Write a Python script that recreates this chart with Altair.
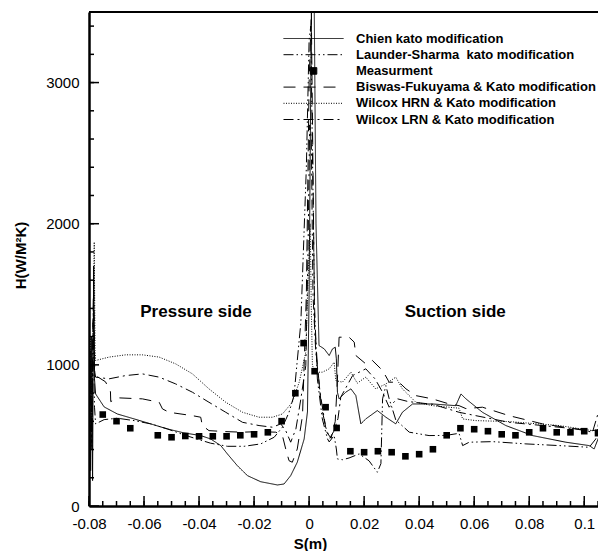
import altair as alt
import pandas as pd

FONT = "Liberation Sans"

NAMES = [
    "Chien kato modification",
    "Launder-Sharma\u00a0 kato modification",
    "Measurment",
    "Biswas-Fukuyama & Kato modification",
    "Wilcox HRN & Kato modification",
    "Wilcox LRN & Kato modification",
]
DASHES = [[1, 0], [10, 3, 1.5, 3, 1.5, 3], [1, 0], [12, 8], [1, 1.5], [10, 4, 2, 4]]
SQUARE = "M-0.11,-0.11L0.11,-0.11L0.11,0.11L-0.11,0.11Z"
SHAPES = ["stroke", "stroke", SQUARE, "stroke", "stroke", "stroke"]

CHIEN_X = [-0.0800, -0.0797, -0.0794, -0.0790, -0.0787, -0.0783, -0.0780, -0.0776, -0.0745, -0.0697,
           -0.0636, -0.0576, -0.0515, -0.0455, -0.0394, -0.0358, -0.0321, -0.0297, -0.0261, -0.0224,
           -0.0176, -0.0115, -0.0091, -0.0067, -0.0043, -0.0018, -0.0006, 0.0000, 0.0006, 0.0010,
           0.0018, 0.0025, 0.0036, 0.0055, 0.0073, 0.0085, 0.0095, 0.0099, 0.0103, 0.0109,
           0.0133, 0.0152, 0.0170, 0.0188, 0.0206, 0.0248, 0.0279, 0.0315, 0.0339, 0.0376,
           0.0448, 0.0533, 0.0552, 0.0570, 0.0630, 0.0715, 0.0812, 0.0933, 0.1018, 0.1036,
           0.1055, 0.1073]
CHIEN_Y = [550, 1000, 250, 1200, 180, 1700, 900, 794, 702, 652,
           617, 582, 546, 518, 499, 475, 428, 369, 286, 215,
           172, 149, 156, 215, 310, 475, 667, 1500, 3000, 3700,
           3700, 2000, 1137, 1113, 1066, 1113, 1125, 1043, 806, 759,
           806, 830, 782, 582, 617, 676, 629, 582, 664, 723,
           723, 711, 794, 759, 664, 570, 499, 452, 428, 404,
           499, 534]

LAUNDER_X = [-0.0800, -0.0795, -0.0790, -0.0785, -0.0780, -0.0776, -0.0745, -0.0697, -0.0636, -0.0576,
             -0.0515, -0.0455, -0.0400, -0.0358, -0.0297, -0.0236, -0.0176, -0.0127, -0.0097, -0.0073,
             -0.0055, -0.0030, -0.0010, 0.0000, 0.0006, 0.0012, 0.0020, 0.0030, 0.0048, 0.0067,
             0.0073, 0.0091, 0.0099, 0.0103, 0.0121, 0.0145, 0.0182, 0.0218, 0.0248, 0.0261,
             0.0267, 0.0279, 0.0291, 0.0315, 0.0364, 0.0436, 0.0497, 0.0545, 0.0558, 0.0582,
             0.0667, 0.0788, 0.0909, 0.1018, 0.1042, 0.1055, 0.1067]
LAUNDER_Y = [550, 900, 400, 1300, 700, 582, 612, 622, 605, 582,
             546, 504, 470, 445, 423, 423, 440, 487, 558, 664,
             782, 1300, 2400, 3300, 3400, 2500, 1400, 900, 617, 475,
             454, 499, 404, 333, 328, 340, 369, 320, 239, 300,
             759, 853, 760, 610, 523, 499, 500, 515, 428, 452,
             456, 440, 428, 416, 475, 617, 711]

MEAS_X = [-0.080, -0.075, -0.070, -0.065, -0.055, -0.050, -0.045, -0.040, -0.035, -0.030,
          -0.025, -0.020, -0.015, -0.010, -0.005, -0.002, 0.002, 0.006, 0.010, 0.015,
          0.020, 0.025, 0.030, 0.035, 0.040, 0.045, 0.050, 0.055, 0.060, 0.065,
          0.070, 0.075, 0.080, 0.085, 0.090, 0.095, 0.100, 0.105]
MEAS_Y = [553, 648, 601, 551, 501, 487, 496, 494, 494, 494,
          501, 508, 522, 601, 799, 1154, 955, 700, 553, 388,
          381, 388, 381, 352, 367, 402, 501, 551, 544, 530,
          508, 501, 522, 551, 522, 522, 530, 516]

BISWAS_X = [-0.0800, -0.0795, -0.0790, -0.0784, -0.0780, -0.0776, -0.0740, -0.0722, -0.0721, -0.0691,
            -0.0606, -0.0545, -0.0533, -0.0509, -0.0424, -0.0394, -0.0388, -0.0364, -0.0303, -0.0242,
            -0.0182, -0.0121, -0.0097, -0.0085, -0.0073, -0.0061, -0.0043, -0.0024, -0.0010, 0.0000,
            0.0008, 0.0014, 0.0020, 0.0030, 0.0045, 0.0065, 0.0080, 0.0095, 0.0103, 0.0109,
            0.0145, 0.0164, 0.0170, 0.0206, 0.0230, 0.0267, 0.0291, 0.0327, 0.0352, 0.0388,
            0.0448, 0.0509, 0.0545, 0.0570, 0.0630, 0.0727, 0.0848, 0.0970, 0.1030, 0.1067]
BISWAS_Y = [600, 1100, 500, 1500, 950, 924, 880, 810, 740, 766,
            759, 735, 688, 664, 640, 629, 570, 534, 527, 523,
            527, 523, 499, 404, 321, 310, 404, 640, 1500, 3000,
            3500, 2400, 1300, 1000, 700, 520, 480, 600, 900, 1196,
            1196, 1161, 1066, 1007, 1031, 960, 877, 877, 830, 782,
            759, 723, 711, 690, 700, 640, 582, 546, 534, 546]

HRN_X = [-0.0800, -0.0794, -0.0789, -0.0781, -0.0778, -0.0776, -0.0727, -0.0667, -0.0606, -0.0545,
         -0.0485, -0.0424, -0.0364, -0.0303, -0.0242, -0.0182, -0.0133, -0.0097, -0.0061, -0.0036,
         -0.0012, -0.0004, 0.0004, 0.0008, 0.0012, 0.0024, 0.0048, 0.0073, 0.0091, 0.0097,
         0.0121, 0.0152, 0.0175, 0.0206, 0.0242, 0.0279, 0.0315, 0.0339, 0.0388, 0.0448,
         0.0545, 0.0558, 0.0606, 0.0727, 0.0909, 0.1030, 0.1067]
HRN_Y = [700, 1200, 600, 1870, 1100, 1031, 1055, 1071, 1071, 1055,
         1007, 936, 830, 735, 664, 629, 629, 652, 735, 877,
         1090, 1600, 2000, 1400, 995, 948, 948, 972, 1019, 889,
         877, 948, 870, 913, 830, 865, 913, 830, 735, 711,
         693, 617, 605, 598, 570, 534, 546]

LRN_X = [-0.0800, -0.0795, -0.0790, -0.0783, -0.0779, -0.0776, -0.0727, -0.0667, -0.0606, -0.0545,
         -0.0485, -0.0424, -0.0364, -0.0303, -0.0242, -0.0182, -0.0133, -0.0103, -0.0085, -0.0067,
         -0.0048, -0.0030, -0.0012, -0.0004, 0.0002, 0.0008, 0.0014, 0.0024, 0.0040, 0.0060,
         0.0075, 0.0090, 0.0105, 0.0115, 0.0158, 0.0206, 0.0240, 0.0267, 0.0291, 0.0320,
         0.0360, 0.0450, 0.0545, 0.0606, 0.0727, 0.0848, 0.0970, 0.1030, 0.1055, 0.1073]
LRN_Y = [650, 1000, 450, 1600, 950, 913, 901, 924, 936, 913,
         865, 806, 735, 664, 593, 570, 558, 582, 534, 452,
         546, 759, 995, 1800, 2700, 2600, 1500, 1100, 800, 560,
         480, 530, 620, 771, 924, 972, 900, 806, 700, 760,
         740, 720, 664, 640, 593, 570, 546, 523, 688, 735]

ANNOT_TEXT = ["Pressure side", "Suction side"]
ANNOT_S = [-0.0411, 0.0531]
ANNOT_H = [1376, 1376]

X_MAJOR = [-0.08, -0.06, -0.04, -0.02, 0.0, 0.02, 0.04, 0.06, 0.08, 0.1]
X_MINOR = [round(-0.08 + 0.005 * i, 3) for i in range(38)]
Y_MAJOR = [0, 1000, 2000, 3000]
Y_MINOR = [200 * i for i in range(1, 18)]

rows = []
for name, xs, ys in [(NAMES[0], CHIEN_X, CHIEN_Y), (NAMES[1], LAUNDER_X, LAUNDER_Y),
                     (NAMES[3], BISWAS_X, BISWAS_Y), (NAMES[4], HRN_X, HRN_Y),
                     (NAMES[5], LRN_X, LRN_Y)]:
    for i, (a, b) in enumerate(zip(xs, ys)):
        rows.append({"model": name, "s": a, "h": b, "i": i})
lines_df = pd.DataFrame(rows)
meas_df = pd.DataFrame({"model": [NAMES[2]] * len(MEAS_X), "s": MEAS_X, "h": MEAS_Y})
annot_df = pd.DataFrame({"t": ANNOT_TEXT, "s": ANNOT_S, "h": ANNOT_H})
xmaj_df = pd.DataFrame({"s": X_MAJOR})
xmin_df = pd.DataFrame({"s": X_MINOR})
ymaj_df = pd.DataFrame({"h": Y_MAJOR})
ymin_df = pd.DataFrame({"h": Y_MINOR})

W, H = 509, 494

xscale = alt.Scale(domain=[-0.08, 0.105], nice=False, zero=False)
yscale = alt.Scale(domain=[0, 3500], nice=False, zero=False)

xaxis = alt.Axis(values=X_MAJOR, labelExpr="'' + datum.value", labelFont=FONT, labelFontSize=15,
                 labelColor="black", labelPadding=10, ticks=False, tickSize=0, grid=False,
                 domainColor="black", domainWidth=2.5, titleFont=FONT, titleFontSize=15,
                 titleFontWeight="bold", titleColor="black", titleX=221, titleY=37,
                 titleBaseline="middle", titleAlign="center", labelFlush=False, labelOverlap=False)
yaxis = alt.Axis(values=Y_MAJOR, labelExpr="'' + datum.value", labelFont=FONT, labelFontSize=15,
                 labelColor="black", labelPadding=10, ticks=False, tickSize=0, grid=False,
                 domainColor="black", domainWidth=2.5, titleFont=FONT, titleFontSize=15,
                 titleFontWeight="bold", titleColor="black", titleX=-69, titleY=243,
                 titleAngle=270, titleBaseline="middle", titleAlign="center",
                 labelFlush=False, labelOverlap=False)

X = alt.X("s:Q", scale=xscale, axis=xaxis, title="S(m)")
Y = alt.Y("h:Q", scale=yscale, axis=yaxis, title="H(W/M²K)")

legend = alt.Legend(title=None, orient="none", legendX=194, legendY=20, symbolSize=3600,
                    clipHeight=13, labelOffset=12, labelFontSize=13, labelFontWeight="bold",
                    labelFont=FONT, labelColor="black", labelLimit=0, rowPadding=2.2, padding=0,
                    symbolStrokeWidth=1, symbolStrokeColor="black", symbolFillColor="black")

lines = alt.Chart(lines_df).mark_line(color="black", strokeWidth=1, clip=True).encode(
    x=X, y=Y,
    strokeDash=alt.StrokeDash("model:N", scale=alt.Scale(domain=NAMES, range=DASHES), legend=legend),
    order=alt.Order("i:Q"),
)

points = alt.Chart(meas_df).mark_point(color="black", filled=True, opacity=1, size=3600,
                                       clip=True).encode(
    x=X, y=Y,
    shape=alt.Shape("model:N", scale=alt.Scale(domain=NAMES, range=SHAPES), legend=None),
)

annot = alt.Chart(annot_df).mark_text(font=FONT, fontSize=17, fontWeight="bold", color="black").encode(
    x=X, y=Y, text="t:N")

xmaj = alt.Chart(xmaj_df).mark_rule(color="black", strokeWidth=1.5).encode(
    x=X, y=alt.value(H), y2=alt.value(H - 10))
xmin = alt.Chart(xmin_df).mark_rule(color="black", strokeWidth=1.5).encode(
    x=X, y=alt.value(H), y2=alt.value(H - 5))
ymaj = alt.Chart(ymaj_df).mark_rule(color="black", strokeWidth=1.5).encode(
    y=Y, x=alt.value(0), x2=alt.value(10))
ymin = alt.Chart(ymin_df).mark_rule(color="black", strokeWidth=1.5).encode(
    y=Y, x=alt.value(0), x2=alt.value(5))
top = alt.Chart(xmaj_df).mark_rule(color="black", strokeWidth=2).encode(
    x=alt.value(0), x2=alt.value(W), y=alt.value(0))

chart = alt.layer(lines, points, annot, xmaj, xmin, ymaj, ymin, top).properties(
    width=W, height=H,
    autosize=alt.AutoSizeParams(type="none"),
    padding={"left": 81, "top": 4, "right": 0, "bottom": 45},
).configure_view(stroke=None).configure(font=FONT)

chart.save("out.html", embed_options={"renderer": "svg", "actions": False})
